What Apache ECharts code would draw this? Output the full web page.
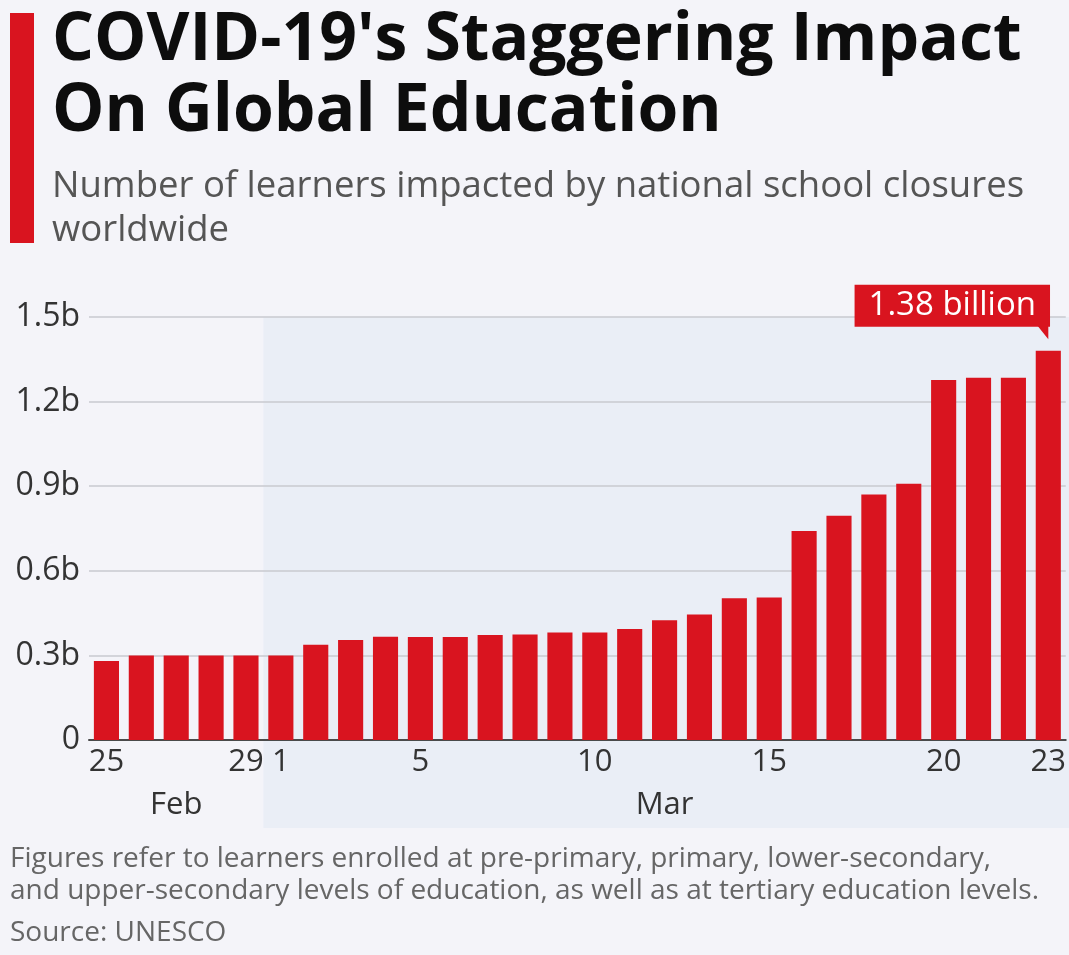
<!DOCTYPE html>
<html>
<head>
<meta charset="utf-8">
<script src="https://cdn.jsdelivr.net/npm/echarts@6/dist/echarts.min.js"></script>
<style>
html,body{margin:0;padding:0;background:#f4f4f9;}
#c{width:1069px;height:955px;}
</style>
</head>
<body>
<div id="c"></div>
<script>
var categories = ['Feb 25','Feb 26','Feb 27','Feb 28','Feb 29','Mar 1','Mar 2','Mar 3','Mar 4','Mar 5','Mar 6','Mar 7','Mar 8','Mar 9','Mar 10','Mar 11','Mar 12','Mar 13','Mar 14','Mar 15','Mar 16','Mar 17','Mar 18','Mar 19','Mar 20','Mar 21','Mar 22','Mar 23'];
var dayLabels = {0:'25',4:'29',5:'1',9:'5',14:'10',19:'15',24:'20',27:'23'};
var monthLabels = {2:'Feb',16:'Mar'};
var learners = [0.28,0.30,0.30,0.30,0.30,0.30,0.338,0.355,0.366,0.365,0.365,0.372,0.374,0.381,0.381,0.394,0.425,0.445,0.503,0.505,0.741,0.795,0.871,0.909,1.277,1.285,1.285,1.38];
var yTicks = {0:'0',0.3:'0.3b',0.6:'0.6b',0.9:'0.9b',1.2:'1.2b',1.5:'1.5b'};
var calloutText = '1.38 billion';
var titleText = "COVID-19's Staggering Impact\nOn Global Education";
var subtitleText = 'Number of learners impacted by national school closures\nworldwide';
var noteText = 'Figures refer to learners enrolled at pre-primary, primary, lower-secondary,\nand upper-secondary levels of education, as well as at tertiary education levels.';
var sourceText = 'Source: UNESCO';

var RED = '#d9141f';
var FONT = '"Open Sans", sans-serif';

var chart = echarts.init(document.getElementById('c'));
var lastIdx = learners.length - 1;
var seriesData = learners.map(function (v, i) {
  if (i === lastIdx) {
    return {
      value: v,
      label: {
        show: true, position: 'top', distance: 24, offset: [-96, 0],
        formatter: calloutText, color: '#fff', fontFamily: FONT, fontSize: 33,
        backgroundColor: RED, padding: [2, 14, 2, 14], lineHeight: 38
      }
    };
  }
  return v;
});

var option = {
  backgroundColor: '#f4f4f9',
  animation: false,
  textStyle: {fontFamily: FONT},
  grid: {left: 89, right: 2, top: 317, bottom: 215, containLabel: false},
  xAxis: {
    type: 'category', data: categories,
    axisLine: {show: true, lineStyle: {color: '#4a4a4a', width: 2}},
    axisTick: {show: false},
    axisLabel: {
      interval: 0, margin: 4, hideOverlap: false,
      formatter: function (val, i) {
        var d = dayLabels[i] || ' ';
        var m = monthLabels[i] || ' ';
        return '{d|' + d + '}\n{m|' + m + '}';
      },
      rich: {
        d: {fontSize: 31, lineHeight: 36, color: '#333', fontFamily: FONT},
        m: {fontSize: 31, lineHeight: 50, color: '#333', fontFamily: FONT}
      }
    }
  },
  yAxis: {
    type: 'value', min: 0, max: 1.5, interval: 0.3,
    axisLine: {show: false}, axisTick: {show: false},
    splitLine: {lineStyle: {color: '#c9cacf', width: 1.5}},
    axisLabel: {
      color: '#333', fontSize: 32, fontFamily: FONT, margin: 9,
      formatter: function (v) {
        var k = Math.round(v * 10) / 10;
        return yTicks[k] !== undefined ? yTicks[k] : '';
      }
    }
  },
  series: [{
    type: 'bar', data: seriesData, barWidth: '72%', z: 5,
    itemStyle: {color: RED},
    markPoint: {
      symbol: 'path://M0,0 L12,0 L12,15 Z', symbolSize: [12, 15],
      symbolOffset: [-6, -19], silent: true, label: {show: false},
      itemStyle: {color: RED},
      data: [{coord: [lastIdx, learners[lastIdx]]}]
    }
  }],
  graphic: [
    {id: 'shade', type: 'rect', z: -100, shape: {x: 0, y: 0, width: 0, height: 0}, style: {fill: '#eaeef6'}},
    {id: 'redbar', type: 'rect', shape: {x: 10, y: 13, width: 24, height: 230}, style: {fill: RED}},
    {id: 'title', type: 'text', left: 52, top: 6, style: {text: titleText, fontFamily: FONT, fontWeight: 'bold', fontSize: 66, lineHeight: 71, fill: '#0d0d0d'}},
    {id: 'sub', type: 'text', left: 52, top: 165, style: {text: subtitleText, fontFamily: FONT, fontSize: 36.5, lineHeight: 44, fill: '#555'}},
    {id: 'note', type: 'text', left: 10, top: 843, style: {text: noteText, fontFamily: FONT, fontSize: 28, lineHeight: 32, fill: '#666'}},
    {id: 'src', type: 'text', left: 10, top: 918, style: {text: sourceText, fontFamily: FONT, fontSize: 28, lineHeight: 30, fill: '#666'}}
  ]
};
chart.setOption(option);

// shaded March background band, positioned from the category axis scale
var x5 = chart.convertToPixel({xAxisIndex: 0}, 5);
var x4 = chart.convertToPixel({xAxisIndex: 0}, 4);
var xStart = (x4 + x5) / 2;
var yTop = chart.convertToPixel({yAxisIndex: 0}, 1.5);
chart.setOption({
  graphic: [
    {id: 'shade', shape: {x: xStart, y: yTop, width: 1069 - xStart, height: 828 - yTop}}
  ]
});
</script>
</body>
</html>
